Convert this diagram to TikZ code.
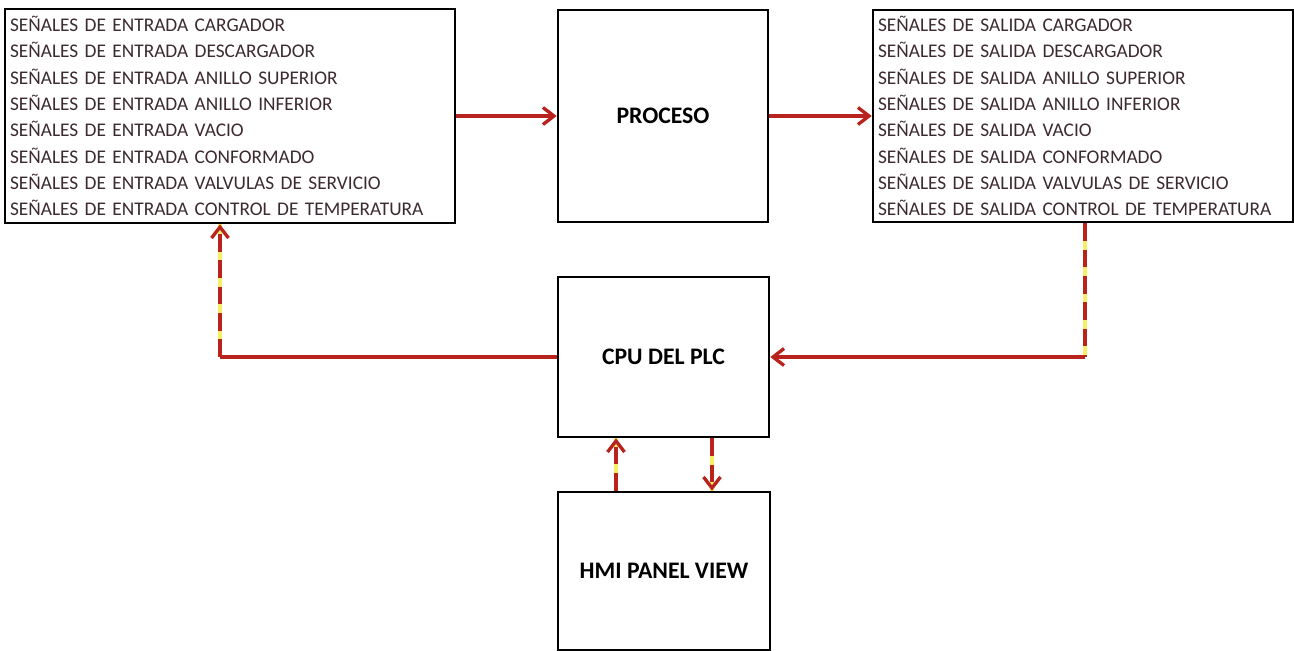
\documentclass[tikz,border=0pt]{standalone}
\usepackage{fontspec}
\setmainfont{Carlito}
\usetikzlibrary{arrows.meta}
\definecolor{sigred}{RGB}{185,35,30}
\definecolor{sigyellow}{RGB}{245,240,100}
\definecolor{listtext}{RGB}{60,42,48}
\tikzset{
  listbox/.style={draw, line width=1.5pt, align=left, inner sep=0.1cm, text=listtext, font=\fontsize{11}{15}\selectfont},
  blockbox/.style={draw, line width=1.5pt, font=\bfseries\fontsize{13.5}{16}\selectfont},
  flowline/.style={draw=sigred, line width=1.9pt, -{Straight Barb[length=2.2mm,width=3.4mm]}},
  dashline/.style={flowline, dash pattern=on 10pt off 5pt, preaction={draw=sigyellow, line width=2.8pt, solid, -}}
}

\begin{document}
\begin{tikzpicture}[x=0.02cm, y=-0.02cm]
  \useasboundingbox[fill=white] (0,0) rectangle (1294,650);

  % boxes
  \node[listbox, text width=8.8cm, minimum height=4.28cm] (entradas) at (230,116) {%
    SEÑALES DE ENTRADA CARGADOR\\
    SEÑALES DE ENTRADA DESCARGADOR\\
    SEÑALES DE ENTRADA ANILLO SUPERIOR\\
    SEÑALES DE ENTRADA ANILLO INFERIOR\\
    SEÑALES DE ENTRADA VACIO\\
    SEÑALES DE ENTRADA CONFORMADO\\
    SEÑALES DE ENTRADA VALVULAS DE SERVICIO\\
    SEÑALES DE ENTRADA CONTROL DE TEMPERATURA};
  \node[blockbox, minimum width=4.2cm, minimum height=4.24cm] (proceso) at (663,116) {PROCESO};
  \node[listbox, text width=8.2cm, minimum height=4.24cm] (salidas) at (1083,116) {%
    SEÑALES DE SALIDA CARGADOR\\
    SEÑALES DE SALIDA DESCARGADOR\\
    SEÑALES DE SALIDA ANILLO SUPERIOR\\
    SEÑALES DE SALIDA ANILLO INFERIOR\\
    SEÑALES DE SALIDA VACIO\\
    SEÑALES DE SALIDA CONFORMADO\\
    SEÑALES DE SALIDA VALVULAS DE SERVICIO\\
    SEÑALES DE SALIDA CONTROL DE TEMPERATURA};
  \node[blockbox, minimum width=4.22cm, minimum height=3.2cm] (cpu) at (663.5,357) {CPU DEL PLC};
  \node[blockbox, minimum width=4.24cm, minimum height=3.16cm] (hmi) at (664,571) {HMI PANEL VIEW};

  % corners of the loop
  \coordinate (outcorner) at ([xshift=0.04cm]salidas.south |- cpu.east);
  \coordinate (incorner) at ([xshift=-0.2cm]entradas.south |- cpu.west);

  % connectors
  \draw[flowline] (entradas.east |- proceso.west) -- (proceso.west);
  \draw[flowline] (proceso.east) -- (proceso.east -| salidas.west);
  \draw[dashline, -] (outcorner |- salidas.south) -- (outcorner);
  \draw[flowline] (outcorner) -- (cpu.east);
  \draw[flowline, -] (cpu.west) -- (incorner);
  \draw[dashline] (incorner) -- (incorner |- entradas.south);
  \draw[dashline] ([xshift=-0.96cm]hmi.north) -- ([xshift=-0.96cm]hmi.north |- cpu.south);
  \draw[dashline] ([xshift=0.96cm]hmi.north |- cpu.south) -- ([xshift=0.96cm]hmi.north);
\end{tikzpicture}
\end{document}
